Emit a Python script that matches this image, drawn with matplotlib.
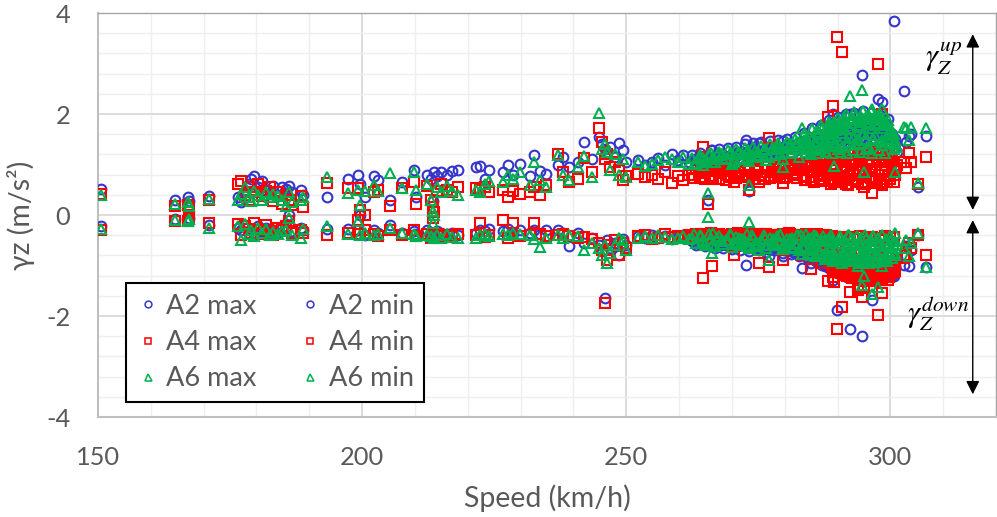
import matplotlib.pyplot as plt
from matplotlib.ticker import MultipleLocator

# one entry per run: speed and the extreme vertical accelerations of each car
speed = [
    # sparse runs and outliers
    150.5, 164.5, 167.0, 167.2, 171.0, 176.5, 177.0, 177.8, 178.5, 179.0,
    179.6, 180.2, 181.0, 181.8, 182.5, 183.2, 184.0, 184.8, 185.5, 186.2,
    186.8, 188.5, 188.8, 193.3, 197.3, 199.2, 199.6, 200.5, 202.3, 203.0,
    205.2, 207.6, 209.8, 210.2, 212.2, 213.0, 213.4, 213.6, 214.2, 215.0,
    216.0, 217.0, 218.2, 221.6, 222.4, 223.2, 224.0, 226.6, 227.6, 228.6,
    229.8, 231.7, 232.6, 233.6, 234.8, 237.0, 238.0, 239.2, 240.8, 242.0,
    243.5, 244.8, 245.4, 245.9, 246.4, 247.0, 247.8, 248.6, 249.4, 250.0,
    252.2, 253.5, 254.8, 256.0, 257.4, 258.6, 259.8, 260.8, 261.8, 264.6,
    265.5, 266.3, 272.6, 273.3, 277.0, 270.4, 275.2, 279.6, 283.3, 285.0,
    287.0, 289.3, 293.9, 300.8, 289.9, 290.8, 297.7, 300.7, 294.6, 292.3,
    302.5, 289.1, 288.2, 296.5, 298.4, 295.0, 303.5, 304.0, 303.0, 305.3,
    306.7,
    # dense band, first set
    262.4, 263.2, 264.0, 265.0, 266.0, 266.8, 267.6, 268.4, 269.2, 270.0,
    270.8, 271.6, 272.4, 273.2, 274.0, 274.8, 275.6, 276.4, 277.2, 278.0,
    278.8, 279.6, 280.4, 281.2, 282.0, 282.8, 283.6, 284.4, 285.2, 286.0,
    286.8, 287.6, 288.4, 289.2, 290.0, 290.8, 291.6, 292.4, 293.2, 294.0,
    294.8, 295.6, 296.4, 297.2, 298.0, 298.8, 299.6, 300.4,
    # dense band, second set
    262.8, 264.5, 266.4, 268.0, 269.6, 271.2, 272.8, 274.4, 276.0, 277.6,
    279.2, 280.8, 282.4, 283.2, 284.0, 284.8, 285.6, 286.4, 287.2, 288.0,
    288.8, 289.6, 290.4, 291.2, 292.0, 292.8, 293.6, 294.4, 295.2, 296.0,
    296.8, 297.6, 298.4, 299.2, 300.0, 300.8,
    # dense band, third set
    285.0, 285.8, 286.2, 287.0, 287.8, 288.6, 289.0, 289.8, 290.6, 291.0,
    291.8, 292.6, 293.0, 293.8, 294.2, 295.0, 295.4, 296.2, 296.6, 297.4,
    297.8, 298.6, 299.0, 299.8, 300.6, 301.2,
    # dense band, fourth set
    264.2, 264.9, 265.6, 266.2, 267.2, 268.8, 269.9, 270.5, 271.9, 273.0,
    273.9, 275.0, 276.2, 276.9, 278.5, 279.9, 281.0, 281.6, 282.6, 283.9,
    284.2, 285.4, 286.1, 286.6, 287.4, 288.1, 288.7, 289.5, 290.2, 290.9,
    291.4, 292.1, 292.7, 293.4, 294.1, 294.7, 295.3, 295.9, 296.5, 297.1,
    297.7, 298.2, 298.9, 299.4, 300.1, 300.9,
    # dense band, fifth set
    278.2, 279.1, 280.1, 281.4, 282.2, 283.0, 283.7, 284.5, 285.3, 285.9,
    286.5, 287.1, 287.7, 288.3, 288.9, 289.4, 290.1, 290.7, 291.2, 291.7,
    292.2, 292.9, 293.5, 294.0, 294.5, 295.1, 295.7, 296.1, 296.7, 297.3,
    297.9, 298.5, 299.1, 299.7, 300.2, 300.7, 268.2, 271.4, 274.6, 277.8,
]

a2_max = [
    0.52, 0.30, 0.35, 0.28, 0.38, 0.35, 0.25, 0.45, 0.62, 0.72,
    0.78, 0.55, 0.68, 0.50, 0.42, 0.58, 0.48, 0.55, 0.52, 0.58,
    0.45, 0.50, 0.40, 0.36, 0.71, 0.79, 0.62, 0.35, 0.78, 0.70,
    0.30, 0.65, 0.89, 0.35, 0.80, 0.72, 0.28, 0.85, 0.78, 0.85,
    0.80, 0.88, 0.90, 0.95, 0.98, 0.72, 0.90, 0.85, 1.00, 0.80,
    1.02, 0.78, 1.19, 0.88, 0.82, 1.00, 1.15, 0.95, 1.05, 1.45,
    1.10, 1.55, 1.40, 1.30, 1.25, 1.35, 1.15, 1.42, 1.28, 1.05,
    1.09, 1.00, 1.05, 1.12, 1.00, 1.20, 1.08, 1.18, 1.05, 1.10,
    0.30, 1.29, 1.49, 0.47, 1.20, 1.00, 1.43, 1.47, 1.05, 1.20,
    1.72, 1.40, 1.60, 1.50, 1.60, 1.55, 2.30, 3.84, 2.77, 2.00,
    2.46, 2.00, 1.72, 1.85, 2.24, 1.70, 1.57, 1.60, 1.45, 0.55,
    1.57,
    1.18, 1.10, 1.22, 1.12, 1.28, 1.15, 1.30, 1.18, 1.32, 1.20,
    1.35, 1.22, 1.40, 1.25, 1.42, 1.28, 1.45, 1.30, 1.46, 1.32,
    1.48, 1.35, 1.50, 1.38, 1.55, 1.40, 1.62, 1.45, 1.72, 1.50,
    1.78, 1.55, 1.88, 1.62, 1.95, 1.68, 2.00, 1.72, 2.02, 1.75,
    2.05, 1.78, 2.02, 1.80, 1.98, 1.75, 1.90, 1.60,
    1.08, 1.14, 1.10, 1.20, 1.12, 1.25, 1.15, 1.30, 1.18, 1.35,
    1.22, 1.40, 1.28, 1.45, 1.30, 1.50, 1.35, 1.58, 1.40, 1.65,
    1.45, 1.72, 1.50, 1.80, 1.55, 1.85, 1.58, 1.90, 1.60, 1.88,
    1.62, 1.85, 1.58, 1.80, 1.50, 1.40,
    1.25, 1.40, 1.30, 1.45, 1.32, 1.50, 1.35, 1.55, 1.38, 1.60,
    1.40, 1.62, 1.42, 1.65, 1.45, 1.68, 1.45, 1.70, 1.42, 1.68,
    1.40, 1.65, 1.38, 1.58, 1.30, 1.25,
    1.05, 1.10, 1.15, 1.08, 1.20, 1.12, 1.18, 1.15, 1.25, 1.20,
    1.28, 1.22, 1.30, 1.25, 1.32, 1.28, 1.35, 1.30, 1.38, 1.35,
    1.40, 1.38, 1.45, 1.40, 1.50, 1.42, 1.55, 1.45, 1.58, 1.48,
    1.60, 1.50, 1.65, 1.52, 1.68, 1.55, 1.70, 1.58, 1.72, 1.60,
    1.70, 1.62, 1.68, 1.55, 1.60, 1.45,
    1.25, 1.30, 1.28, 1.35, 1.32, 1.38, 1.40, 1.42, 1.45, 1.50,
    1.48, 1.55, 1.52, 1.60, 1.58, 1.65, 1.60, 1.68, 1.65, 1.70,
    1.62, 1.72, 1.68, 1.75, 1.70, 1.78, 1.72, 1.80, 1.75, 1.78,
    1.72, 1.75, 1.70, 1.65, 1.55, 1.50, 1.15, 1.20, 1.22, 1.28,
]

a2_min = [
    -0.22, -0.08, -0.08, -0.05, -0.20, -0.25, -0.30, -0.20, -0.35, -0.28,
    -0.40, -0.22, -0.32, -0.26, -0.38, -0.30, -0.35, -0.25, -0.28, 0.00,
    -0.32, -0.25, -0.30, -0.27, -0.27, -0.30, 0.00, -0.40, -0.30, -0.35,
    -0.20, -0.35, -0.32, -0.38, -0.30, -0.35, -0.40, -0.38, -0.32, -0.35,
    -0.38, -0.35, -0.40, -0.35, -0.30, -0.32, -0.28, -0.32, -0.28, -0.35,
    -0.30, -0.35, -0.30, -0.38, -0.30, -0.30, -0.35, -0.62, -0.35, -0.55,
    -0.45, -0.60, -0.72, -1.65, -0.50, -0.65, -0.55, -0.80, -0.48, -0.60,
    -0.42, -0.45, -0.40, -0.45, -0.42, -0.48, -0.44, -0.40, -0.46, -0.45,
    -0.50, -0.55, -0.99, -0.55, -0.82, -0.60, -0.70, -0.82, -1.05, -0.95,
    -0.90, -1.10, -1.25, -0.90, -1.88, -1.10, -1.20, -1.21, -2.40, -2.26,
    -0.99, -1.29, -1.00, -1.68, -1.15, -1.30, -1.00, -0.70, -0.62, -0.40,
    -1.02,
    -0.52, -0.60, -0.55, -0.62, -0.50, -0.65, -0.58, -0.66, -0.55, -0.68,
    -0.60, -0.70, -0.58, -0.72, -0.62, -0.68, -0.60, -0.74, -0.64, -0.70,
    -0.66, -0.76, -0.68, -0.78, -0.70, -0.82, -0.74, -0.88, -0.80, -0.92,
    -0.85, -0.98, -0.90, -1.05, -0.95, -1.12, -1.00, -1.18, -1.05, -1.22,
    -1.10, -1.25, -1.12, -1.28, -1.15, -1.25, -1.10, -1.20,
    -0.48, -0.58, -0.52, -0.60, -0.56, -0.62, -0.58, -0.64, -0.60, -0.66,
    -0.62, -0.70, -0.66, -0.72, -0.68, -0.76, -0.72, -0.80, -0.76, -0.85,
    -0.80, -0.90, -0.86, -0.95, -0.92, -1.00, -0.95, -1.02, -0.98, -1.05,
    -1.00, -1.08, -1.02, -1.05, -0.98, -1.00,
    -0.62, -0.70, -0.66, -0.72, -0.68, -0.78, -0.72, -0.82, -0.78, -0.88,
    -0.82, -0.92, -0.86, -0.96, -0.90, -1.00, -0.92, -1.02, -0.95, -1.05,
    -0.96, -1.02, -0.92, -0.98, -0.90, -0.85,
    -0.50, -0.55, -0.52, -0.58, -0.55, -0.60, -0.58, -0.62, -0.60, -0.65,
    -0.62, -0.66, -0.64, -0.68, -0.66, -0.70, -0.70, -0.74, -0.72, -0.78,
    -0.75, -0.82, -0.80, -0.88, -0.85, -0.92, -0.90, -0.98, -0.95, -1.05,
    -1.00, -1.10, -1.05, -1.15, -1.10, -1.20, -1.12, -1.25, -1.15, -1.22,
    -1.18, -1.25, -1.15, -1.20, -1.10, -1.05,
    -0.62, -0.66, -0.70, -0.72, -0.75, -0.78, -0.80, -0.85, -0.88, -0.92,
    -0.95, -0.98, -1.00, -1.05, -1.08, -1.12, -1.10, -1.15, -1.18, -1.22,
    -1.20, -1.25, -1.22, -1.28, -1.25, -1.30, -1.22, -1.28, -1.20, -1.25,
    -1.18, -1.22, -1.15, -1.18, -1.10, -1.05, -0.58, -0.60, -0.62, -0.65,
]

a4_max = [
    0.42, 0.18, 0.20, 0.14, 0.30, 0.62, 0.68, 0.40, 0.30, 0.55,
    0.45, 0.62, 0.38, 0.48, 0.55, 0.28, 0.45, 0.22, 0.40, 0.30,
    0.20, 0.38, 0.15, 0.63, 0.53, 0.53, 0.10, 0.00, 0.46, 0.50,
    0.17, 0.53, 0.65, 0.22, 0.58, 0.30, 0.15, 0.05, 0.48, 0.62,
    0.50, 0.45, 0.55, 0.53, 0.50, 0.55, 0.45, 0.50, 0.36, 0.48,
    0.42, 0.45, 0.55, 0.40, 0.60, 1.20, 0.85, 0.65, 0.72, 1.13,
    0.85, 1.72, 1.45, 1.10, 1.20, 0.95, 1.05, 0.90, 0.70, 0.78,
    0.82, 0.75, 0.80, 0.72, 0.85, 0.63, 0.78, 0.70, 0.80, 1.35,
    0.22, 0.72, 0.80, 0.50, 1.52, 0.66, 0.65, 0.63, 1.00, 0.70,
    0.70, 0.66, 0.66, 0.80, 3.53, 3.23, 3.00, 0.65, 0.66, 0.80,
    1.05, 2.16, 1.94, 0.44, 2.00, 0.56, 1.23, 1.05, 0.93, 0.62,
    1.15,
    0.80, 0.92, 0.75, 0.88, 0.78, 0.96, 0.72, 0.90, 0.80, 0.98,
    0.74, 0.88, 0.78, 0.95, 0.72, 0.90, 0.80, 0.98, 0.74, 0.92,
    0.82, 1.00, 0.76, 0.94, 0.84, 1.02, 0.78, 0.96, 0.70, 1.05,
    0.82, 1.12, 0.68, 1.00, 0.75, 1.15, 0.62, 1.08, 0.80, 1.20,
    0.66, 1.02, 0.74, 1.18, 0.64, 1.05, 0.80, 1.10,
    0.74, 0.84, 0.74, 0.84, 0.76, 0.86, 0.76, 0.88, 0.78, 0.86,
    0.76, 0.90, 0.74, 0.92, 0.70, 0.95, 0.66, 1.00, 0.72, 1.08,
    0.62, 0.98, 0.70, 1.10, 0.60, 1.02, 0.72, 1.15, 0.62, 1.08,
    0.70, 1.22, 0.60, 1.00, 0.72, 0.92,
    0.88, 1.10, 0.92, 1.15, 0.95, 1.18, 0.90, 1.20, 0.88, 1.22,
    0.92, 1.25, 0.85, 1.18, 0.90, 1.25, 0.82, 1.20, 0.88, 1.25,
    0.80, 1.18, 0.85, 1.22, 0.88, 1.00,
    0.85, 0.72, 0.95, 0.78, 0.88, 0.70, 0.92, 0.82, 0.75, 0.98,
    0.80, 0.92, 0.72, 0.95, 0.85, 0.74, 0.98, 0.80, 0.90, 0.70,
    1.00, 0.75, 1.10, 0.68, 1.05, 0.80, 1.15, 0.72, 1.08, 0.65,
    1.12, 0.78, 1.20, 0.70, 1.05, 0.62, 1.18, 0.75, 1.10, 0.68,
    1.22, 0.72, 1.08, 0.66, 1.15, 0.80,
    0.78, 0.95, 0.85, 1.00, 0.80, 0.96, 0.75, 1.02, 0.85, 1.10,
    0.78, 1.05, 0.90, 0.72, 1.12, 0.82, 1.18, 0.75, 1.05, 0.88,
    1.20, 0.70, 1.10, 0.85, 1.22, 0.78, 1.05, 0.92, 1.18, 0.70,
    1.12, 0.85, 1.25, 0.78, 1.05, 0.95, 0.88, 0.80, 0.95, 0.85,
]

a4_min = [
    -0.30, -0.12, -0.12, -0.08, -0.15, -0.18, -0.40, -0.22, -0.28, -0.35,
    -0.15, -0.30, -0.38, -0.20, -0.32, -0.40, -0.25, -0.30, -0.22, -0.12,
    -0.35, -0.30, -0.35, -0.40, -0.35, -0.10, -0.38, -0.30, -0.38, -0.42,
    -0.30, -0.40, -0.30, -0.42, -0.38, -0.45, -0.05, -0.40, -0.38, -0.42,
    -0.40, -0.42, -0.38, -0.40, -0.16, -0.43, -0.40, -0.10, -0.45, -0.15,
    -0.42, -0.40, -0.15, -0.38, -0.42, -0.40, -0.38, -0.42, -0.45, -0.43,
    -0.48, -0.55, -0.70, -1.75, -0.90, -0.60, -0.50, -0.80, -0.55, -0.65,
    -0.42, -0.40, -0.48, -0.45, -0.38, -0.44, -0.42, -0.46, -0.40, -1.25,
    -0.42, -1.01, -0.45, -0.42, -1.02, -0.79, -0.96, -0.89, -0.80, -1.07,
    -0.95, -1.32, -1.48, -1.00, -2.26, -1.82, -1.98, -1.05, -1.62, -1.52,
    -0.85, -1.22, -1.30, -1.10, -1.55, -1.45, -0.55, -0.65, -0.80, -0.40,
    -0.80,
    -0.40, -0.38, -0.44, -0.40, -0.36, -0.42, -0.38, -0.45, -0.40, -0.37,
    -0.43, -0.39, -0.46, -0.38, -0.42, -0.40, -0.45, -0.37, -0.43, -0.40,
    -0.47, -0.38, -0.44, -0.40, -0.48, -0.42, -0.50, -0.40, -0.55, -0.44,
    -0.62, -0.48, -0.75, -0.95, -1.05, -0.88, -1.15, -1.00, -1.22, -1.08,
    -1.28, -1.12, -1.30, -1.05, -1.25, -1.15, -1.28, -1.08,
    -0.42, -0.40, -0.38, -0.42, -0.40, -0.36, -0.42, -0.40, -0.38, -0.42,
    -0.40, -0.36, -0.44, -0.40, -0.38, -0.44, -0.40, -0.45, -0.40, -0.52,
    -0.44, -0.85, -0.46, -0.98, -0.50, -1.10, -0.48, -1.18, -0.52, -1.20,
    -0.48, -1.15, -0.50, -1.22, -0.45, -1.10,
    -0.40, -0.42, -0.38, -0.44, -0.40, -0.46, -0.42, -0.60, -0.44, -0.70,
    -0.46, -0.75, -0.44, -0.80, -0.42, -0.78, -0.46, -0.82, -0.44, -0.85,
    -0.46, -0.80, -0.42, -0.82, -0.44, -0.70,
    -0.38, -0.42, -0.40, -0.45, -0.38, -0.42, -0.40, -0.44, -0.38, -0.42,
    -0.40, -0.45, -0.38, -0.42, -0.40, -0.46, -0.38, -0.44, -0.40, -0.48,
    -0.42, -0.50, -0.45, -0.70, -0.48, -0.85, -0.95, -1.05, -1.12, -0.92,
    -1.18, -1.00, -1.25, -0.95, -1.20, -1.05, -1.30, -0.98, -1.22, -1.10,
    -1.28, -1.02, -1.20, -1.12, -1.15, -0.95,
    -0.40, -0.44, -0.38, -0.46, -0.42, -0.40, -0.48, -0.44, -0.50, -0.42,
    -0.55, -0.46, -0.68, -0.90, -1.00, -1.08, -0.95, -1.15, -1.02, -1.20,
    -1.10, -1.25, -1.00, -1.18, -1.28, -1.05, -1.22, -1.12, -1.30, -1.18,
    -1.08, -1.25, -1.15, -1.22, -1.05, -1.12, -0.40, -0.42, -0.38, -0.44,
]

a6_max = [
    0.40, 0.22, 0.25, 0.18, 0.32, 0.30, 0.42, 0.55, 0.35, 0.28,
    0.48, 0.40, 0.30, 0.45, 0.35, 0.42, 0.38, 0.30, 0.18, 0.45,
    0.25, 0.30, 0.35, 0.76, 0.43, 0.50, 0.20, 0.48, 0.60, 0.48,
    0.84, 0.53, 0.85, 0.50, 0.62, 0.30, 0.08, 0.00, 0.55, 0.45,
    0.58, 0.48, 0.40, 0.50, 0.45, 0.62, 0.68, 0.65, 0.80, 0.72,
    0.85, 0.60, 1.05, 0.70, 0.55, 1.18, 0.80, 0.70, 0.95, 1.16,
    0.76, 2.02, 1.30, 1.40, 1.25, 0.90, 1.20, 0.80, 1.10, 0.75,
    1.05, 0.98, 1.02, 1.08, 1.15, 1.10, 1.05, 1.14, 1.02, 1.00,
    0.43, 1.05, 1.10, 0.60, 1.15, 1.05, 1.15, 0.95, 1.72, 1.30,
    1.40, 0.97, 1.50, 0.85, 1.70, 1.80, 1.95, 1.60, 2.48, 2.36,
    1.75, 1.65, 1.72, 2.10, 2.10, 0.85, 1.48, 1.75, 1.72, 0.63,
    1.72,
    1.12, 1.04, 1.18, 1.08, 1.22, 1.05, 1.25, 1.10, 1.28, 1.02,
    1.30, 1.12, 1.32, 1.06, 1.34, 1.15, 1.36, 1.08, 1.40, 1.18,
    1.42, 1.10, 1.45, 1.22, 1.50, 1.15, 1.60, 1.30, 1.70, 1.40,
    1.78, 1.48, 1.85, 1.55, 1.92, 1.62, 2.00, 1.70, 2.04, 1.75,
    2.06, 1.80, 2.05, 1.82, 2.00, 1.78, 1.88, 1.62,
    1.02, 1.12, 1.15, 1.18, 1.20, 1.22, 1.24, 1.26, 1.28, 1.30,
    1.32, 1.35, 1.38, 1.42, 1.25, 1.55, 1.28, 1.62, 1.32, 1.70,
    1.36, 1.78, 1.40, 1.86, 1.45, 1.92, 1.48, 1.95, 1.50, 1.96,
    1.52, 1.92, 1.48, 1.80, 1.45, 1.40,
    1.20, 1.45, 1.22, 1.52, 1.25, 1.60, 1.22, 1.68, 1.25, 1.75,
    1.22, 1.82, 1.28, 1.88, 1.25, 1.90, 1.30, 1.85, 1.22, 1.88,
    1.28, 1.72, 1.22, 1.65, 1.30, 1.35,
    1.15, 1.05, 1.20, 1.10, 1.18, 1.12, 1.25, 1.08, 1.20, 1.28,
    1.15, 1.25, 1.30, 1.18, 1.35, 1.22, 1.40, 1.30, 1.45, 1.35,
    1.50, 1.35, 1.65, 1.28, 1.60, 1.38, 1.75, 1.45, 1.82, 1.35,
    1.70, 1.55, 1.90, 1.40, 1.78, 1.60, 1.95, 1.35, 1.72, 1.58,
    1.98, 1.45, 1.80, 1.52, 1.70, 1.48,
    1.30, 1.20, 1.38, 1.25, 1.42, 1.30, 1.48, 1.35, 1.55, 1.65,
    1.35, 1.70, 1.42, 1.78, 1.50, 1.85, 1.30, 1.62, 1.95, 1.38,
    1.72, 1.52, 1.98, 1.42, 1.85, 1.62, 1.32, 1.92, 1.48, 1.78,
    1.95, 1.38, 1.85, 1.50, 1.58, 1.42, 1.20, 1.25, 1.18, 1.32,
]

a6_min = [
    -0.28, -0.10, -0.12, -0.08, -0.25, -0.22, -0.50, -0.18, -0.38, -0.30,
    -0.42, -0.25, -0.35, -0.28, -0.40, -0.33, -0.38, -0.32, -0.30, -0.05,
    -0.40, -0.45, -0.28, -0.22, -0.38, -0.12, -0.40, -0.35, -0.40, -0.38,
    -0.25, -0.35, -0.38, -0.42, -0.40, -0.42, -0.15, -0.45, -0.40, -0.45,
    -0.38, -0.44, -0.45, -0.45, -0.40, -0.38, -0.42, -0.38, -0.40, -0.36,
    -0.38, -0.40, -0.48, -0.63, -0.45, -0.40, -0.45, -0.40, -0.42, -0.70,
    -0.55, -0.65, -0.80, -0.60, -0.95, -0.75, -0.60, -0.45, -0.50, -0.70,
    -0.45, -0.42, -0.46, -0.40, -0.44, -0.48, -0.45, -0.42, -0.48, -0.50,
    -0.04, -0.75, -0.60, -0.13, -0.89, -0.55, -0.70, -0.65, -0.78, -0.80,
    -0.82, -0.90, -1.00, -0.35, -0.85, -0.90, -1.42, -0.80, -1.39, -0.90,
    -0.65, -0.88, -0.85, -1.57, -1.00, -1.20, -0.82, -0.55, -0.50, -0.35,
    -1.03,
    -0.45, -0.55, -0.40, -0.60, -0.48, -0.62, -0.42, -0.58, -0.50, -0.64,
    -0.44, -0.60, -0.52, -0.66, -0.45, -0.62, -0.50, -0.66, -0.46, -0.60,
    -0.52, -0.68, -0.48, -0.64, -0.55, -0.70, -0.50, -0.75, -0.58, -0.82,
    -0.52, -0.88, -0.62, -0.92, -0.55, -0.95, -0.65, -0.90, -0.58, -0.95,
    -0.68, -0.92, -0.60, -0.94, -0.70, -0.90, -0.62, -0.85,
    -0.38, -0.52, -0.36, -0.52, -0.38, -0.54, -0.38, -0.56, -0.40, -0.58,
    -0.38, -0.56, -0.40, -0.62, -0.38, -0.66, -0.40, -0.70, -0.42, -0.75,
    -0.40, -0.80, -0.42, -0.84, -0.40, -0.86, -0.42, -0.82, -0.40, -0.86,
    -0.42, -0.80, -0.40, -0.84, -0.42, -0.75,
    -0.45, -0.55, -0.48, -0.60, -0.50, -0.65, -0.52, -0.70, -0.55, -0.75,
    -0.58, -0.78, -0.60, -0.72, -0.55, -0.78, -0.62, -0.72, -0.58, -0.76,
    -0.62, -0.70, -0.56, -0.72, -0.60, -0.58,
    -0.42, -0.55, -0.38, -0.60, -0.45, -0.50, -0.40, -0.58, -0.48, -0.62,
    -0.40, -0.55, -0.45, -0.60, -0.42, -0.58, -0.48, -0.65, -0.40, -0.62,
    -0.50, -0.68, -0.45, -0.78, -0.52, -0.85, -0.48, -0.80, -0.55, -0.90,
    -0.50, -0.85, -0.45, -0.92, -0.55, -0.88, -0.48, -0.95, -0.52, -0.90,
    -0.45, -0.88, -0.55, -0.92, -0.50, -0.80,
    -0.55, -0.40, -0.62, -0.45, -0.58, -0.40, -0.65, -0.48, -0.70, -0.42,
    -0.75, -0.50, -0.82, -0.45, -0.78, -0.55, -0.88, -0.48, -0.72, -0.92,
    -0.40, -0.80, -0.58, -0.95, -0.45, -0.85, -0.65, -0.90, -0.42, -0.82,
    -0.60, -0.88, -0.48, -0.78, -0.65, -0.52, -0.50, -0.45, -0.58, -0.48,
]

for arr in (a2_max, a2_min, a4_max, a4_min, a6_max, a6_min):
    assert len(arr) == len(speed)

plt.rcParams['font.family'] = ['Lato', 'DejaVu Sans']
plt.rcParams['axes.unicode_minus'] = False
plt.rcParams['mathtext.fontset'] = 'stix'

grey = '#595959'
blue, red, green = '#3535CC', '#FF0000', '#00B050'

fig = plt.figure(figsize=(9.97, 5.17), dpi=100)
ax = fig.add_axes([0.0983, 0.1934, 0.9007, 0.7814])

series = [
    (a2_max, 'A2 max', blue, 'o', 7.0),
    (a2_min, 'A2 min', blue, 'o', 7.0),
    (a4_max, 'A4 max', red, 's', 6.6),
    (a4_min, 'A4 min', red, 's', 6.6),
    (a6_max, 'A6 max', green, '^', 7.2),
    (a6_min, 'A6 min', green, '^', 7.2),
]
handles = {}
for vals, name, col, mk, ms in series:
    h, = ax.plot(speed, vals, ls='none', marker=mk, ms=ms, mfc='none',
                 mec=col, mew=1.5, label=name, zorder=3)
    handles[name] = h

ax.set_xlim(150, 320)
ax.set_ylim(-4, 4)
ax.set_xticks([150, 200, 250, 300])
ax.set_yticks([-4, -2, 0, 2, 4])
ax.xaxis.set_minor_locator(MultipleLocator(10))
ax.yaxis.set_minor_locator(MultipleLocator(0.4))
ax.grid(which='major', color='#D9D9D9', lw=1.3, zorder=0)
ax.grid(which='minor', color='#EFEFEF', lw=1.0, zorder=0)
ax.set_axisbelow(True)
ax.tick_params(which='both', length=0, labelsize=18.3, labelcolor=grey)
ax.tick_params(axis='x', pad=21)
ax.tick_params(axis='y', pad=20)
for side in ('left', 'bottom'):
    ax.spines[side].set_color('#BFBFBF')
    ax.spines[side].set_linewidth(1.5)
for side in ('top', 'right'):
    ax.spines[side].set_color('#A6A6A6')
    ax.spines[side].set_linewidth(1.0)

ax.set_xlabel('Speed (km/h)', fontsize=20.5, color=grey, labelpad=11)
ax.set_ylabel('γz (m/s²)', fontsize=20.5, color=grey, labelpad=8)

order = ['A2 max', 'A4 max', 'A6 max', 'A2 min', 'A4 min', 'A6 min']
leg = ax.legend([handles[k] for k in order], order, ncol=2, loc='upper left',
                bbox_to_anchor=(0.031, 0.332), borderaxespad=0, fontsize=19.5,
                markerscale=0.7, frameon=True, fancybox=False, framealpha=1,
                edgecolor='black', handlelength=0.8, handletextpad=0.3,
                columnspacing=1.55, labelspacing=0.42, borderpad=0.4)
leg.get_frame().set_linewidth(1.5)
for t in leg.get_texts():
    t.set_color(grey)
for h in leg.legend_handles:
    h.set_markeredgewidth(1.1)

arrow = dict(arrowstyle='<|-|>', color='black', lw=1.0, mutation_scale=20,
             shrinkA=0, shrinkB=0)
ax.annotate('', xy=(315.6, 3.58), xytext=(315.6, 0.1), arrowprops=arrow)
ax.annotate('', xy=(315.6, -0.1), xytext=(315.6, -3.55), arrowprops=arrow)
ax.text(310.0, 3.1, r'$\gamma_Z^{up}$', fontsize=22, ha='center', va='center')
ax.text(309.0, -1.95, r'$\gamma_Z^{down}$', fontsize=22, ha='center', va='center')

fig.savefig('out.png', dpi=100)
